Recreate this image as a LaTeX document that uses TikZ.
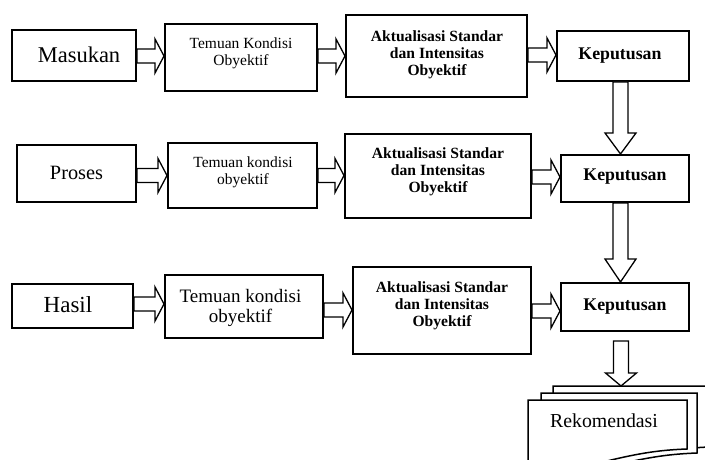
\documentclass[tikz,border=0pt]{standalone}
\usepackage{fontspec}
\setmainfont{Liberation Serif}
\usetikzlibrary{calc}
\tikzset{
  box/.style={draw, line width=2pt, inner sep=0pt, fill=white},
  blk/.style={draw, line width=1.3pt, fill=white, line join=miter},
  lbl/.style={inner sep=0pt, align=center},
  docshape/.style={draw, line width=1.5pt, fill=white, line join=miter},
}
% horizontal block arrow: from node #1 to node #2 at image-y #3
\newcommand{\harr}[3]{\draw[blk] let \p1=(#1.east |- 0,#3), \p2=(#2.west |- 0,#3) in
  (\x1,\y1+7pt) -- (\x2-9pt,\y1+7pt) -- (\x2-9pt,\y1+17pt) -- (\x2,\y1) -- (\x2-9pt,\y1-17pt) -- (\x2-9pt,\y1-7pt) -- (\x1,\y1-7pt) -- cycle;}
% vertical block arrow: from node #1 (south) to point #2 at image-x #3, start gap #4, head length #5
\newcommand{\varr}[5]{\draw[blk] let \p1=(#1.south -| #3,0), \p2=(#2 -| #3,0) in
  (\x1-7.5pt,\y1-#4pt) -- (\x1-7.5pt,\y2+#5pt) -- (\x1-15.5pt,\y2+#5pt) -- (\x1,\y2) -- (\x1+15.5pt,\y2+#5pt) -- (\x1+7.5pt,\y2+#5pt) -- (\x1+7.5pt,\y1-#4pt) -- cycle;}
\begin{document}
\begin{tikzpicture}[x=1pt,y=-1pt]
\useasboundingbox (0,0) rectangle (705,460);
% boxes
\node[box, minimum width=124pt, minimum height=51pt] (m1) at (74,55.5) {};
\node[box, minimum width=152pt, minimum height=67pt] (t1) at (241,57.5) {};
\node[box, minimum width=181pt, minimum height=82pt] (a1) at (436.5,56) {};
\node[box, minimum width=132pt, minimum height=50pt] (k1) at (623,56) {};
\node[box, minimum width=119pt, minimum height=57pt] (m2) at (76.5,173.5) {};
\node[box, minimum width=149pt, minimum height=65pt] (t2) at (242.5,175.5) {};
\node[box, minimum width=186pt, minimum height=84pt] (a2) at (438,176) {};
\node[box, minimum width=128pt, minimum height=47pt] (k2) at (625,178.5) {};
\node[box, minimum width=121pt, minimum height=44pt] (m3) at (72.5,306) {};
\node[box, minimum width=158pt, minimum height=63pt] (t3) at (244,306.5) {};
\node[box, minimum width=178pt, minimum height=87pt] (a3) at (442,310.5) {};
\node[box, minimum width=128pt, minimum height=48pt] (k3) at (625,307) {};
% texts
\node[lbl, font=\fontsize{22.5}{26}\selectfont] (m1t) at (79,55) {Masukan};
\node[lbl, font=\fontsize{15.5}{17}\selectfont] (t1t) at (241,53) {Temuan Kondisi\\Obyektif};
\node[lbl, font=\bfseries\fontsize{15.6}{16.8}\selectfont] (a1t) at (437,55) {Aktualisasi Standar\\dan Intensitas\\Obyektif};
\node[lbl, font=\bfseries\fontsize{17.8}{20}\selectfont] (k1t) at (620,56) {Keputusan};
\node[lbl, font=\fontsize{20.3}{24}\selectfont] (m2t) at (76.5,173) {Proses};
\node[lbl, font=\fontsize{15.5}{17}\selectfont] (t2t) at (243,172) {Temuan kondisi\\obyektif};
\node[lbl, font=\bfseries\fontsize{15.6}{16.8}\selectfont] (a2t) at (438,172) {Aktualisasi Standar\\dan Intensitas\\Obyektif};
\node[lbl, font=\bfseries\fontsize{17.8}{20}\selectfont] (k2t) at (625,177) {Keputusan};
\node[lbl, font=\fontsize{23}{26}\selectfont] (m3t) at (68,305) {Hasil};
\node[lbl, font=\fontsize{19}{19.5}\selectfont] (t3t) at (240.5,308) {Temuan kondisi\\obyektif};
\node[lbl, font=\bfseries\fontsize{15.6}{16.8}\selectfont] (a3t) at (442,306) {Aktualisasi Standar\\dan Intensitas\\Obyektif};
\node[lbl, font=\bfseries\fontsize{17.8}{20}\selectfont] (k3t) at (625,307) {Keputusan};
% horizontal arrows
\harr{m1}{t1}{56}
\harr{t1}{a1}{56}
\harr{a1}{k1}{55}
\harr{m2}{t2}{175.5}
\harr{t2}{a2}{175.5}
\harr{a2}{k2}{177}
\harr{m3}{t3}{304}
\harr{t3}{a3}{310}
\harr{a3}{k3}{311}
% documents
\begin{scope}
\clip (0,0) rectangle (705,460);
\path[docshape] (553,470) -- (553,386) -- (714,386) -- (714,447)
  .. controls (690,447) and (670,451) .. (640,458)
  .. controls (610,466) and (580,468) .. (553,463) -- cycle;
\path[docshape] (541,475) -- (541,393) -- (697,393) -- (697,453)
  .. controls (670,454) and (650,457) .. (620,464)
  .. controls (595,470) and (570,472) .. (541,468) -- cycle;
\path[docshape] (528,480) -- (528,400) -- (687,400) -- (687,449)
  .. controls (660,450) and (640,453) .. (607,461)
  .. controls (580,468) and (555,470) .. (528,466) -- cycle;
\end{scope}
\coordinate (rek) at (621,386);
\node[lbl, font=\fontsize{19.8}{22}\selectfont] (rekt) at (604,421) {Rekomendasi};
% vertical arrows
\varr{k1}{k2.north}{620.5}{0}{21}
\varr{k2}{k3.north}{620.5}{0}{23}
\varr{k3}{rek}{621}{9}{13}
\end{tikzpicture}
\end{document}
